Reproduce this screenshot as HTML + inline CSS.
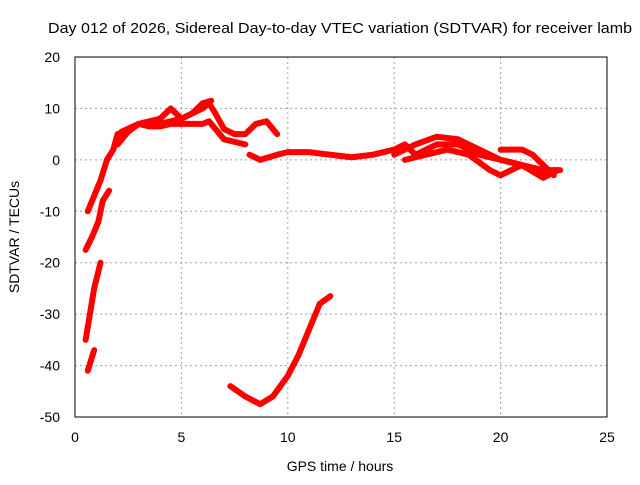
<!DOCTYPE html>
<html><head><meta charset="utf-8"><style>
body{margin:0;background:#fff}
svg text{font-family:"Liberation Sans",sans-serif;font-size:14px;fill:#000}
</style></head><body>
<svg id="chart" width="640" height="480" xmlns="http://www.w3.org/2000/svg">
<text x="340" y="33" text-anchor="middle" textLength="584" lengthAdjust="spacingAndGlyphs" style="font-size:15px">Day 012 of 2026, Sidereal Day-to-day VTEC variation (SDTVAR) for receiver lamb</text>
<text x="340" y="471" text-anchor="middle">GPS time / hours</text>
<text transform="translate(19,237) rotate(-90)" text-anchor="middle">SDTVAR / TECUs</text>
<g id="grid"></g><g id="ticks"></g><g id="marks"></g>
<rect x="75" y="57" width="532" height="360" fill="none" stroke="#000" stroke-width="1"/>
</svg>
<script>
const xTicks=[0,5,10,15,20,25];
const yTicks=[20,10,0,-10,-20,-30,-40,-50];
const seriesA=[[0.6,-10],[0.9,-7],[1.2,-4],[1.5,0],[1.8,2],[2,5],[2.5,6],[3,7],[4,7],[5,8],[5.5,9],[6,10],[6.3,11],[6.6,9],[7,6],[7.5,5],[8,5],[8.5,7],[9,7.5],[9.5,5]];
const seriesA2=[[2,3],[2.5,5.5],[3,7],[3.5,6.5],[4,6.5],[4.5,7],[5,7],[5.5,7],[6,7],[6.3,7.5],[6.6,6],[7,4],[7.5,3.5],[8,3]];
const seriesA3=[[2.2,5.5],[3,7],[4,8],[4.5,10],[5,8],[5.5,9],[6,11],[6.4,11.5]];
const seriesB=[[0.5,-17.5],[0.8,-15],[1.1,-12],[1.3,-8],[1.6,-6]];
const seriesC=[[0.5,-35],[0.7,-30],[0.9,-25],[1.2,-20]];
const seriesC2=[[0.6,-41],[0.9,-37]];
const seriesD=[[7.3,-44],[8,-46],[8.7,-47.5],[9.3,-46],[10,-42],[10.5,-38],[11,-33],[11.5,-28],[12,-26.5]];
const seriesE=[[8.2,1],[8.7,0],[9.5,1],[10,1.5],[11,1.5],[12,1],[13,0.5],[14,1],[15,2],[15.5,3],[16,1],[17,3],[18,3],[19,1],[20,0],[21,-1],[22,-2],[22.8,-2]];
const seriesF=[[15,1],[16,3],[17,4.5],[18,4],[19,2],[20,0],[21,-1],[22,-3],[22.5,-2]];
const seriesG=[[15.5,0],[16.5,1],[17.5,2],[18.5,1],[19.5,-2],[20,-3],[21,-1],[22,-3.5],[22.7,-2]];
const seriesH=[[20,2],[21,2],[21.5,1],[22,-1],[22.5,-3]];
const allSeries=[seriesA,seriesA2,seriesA3,seriesB,seriesC,seriesC2,seriesD,seriesE,seriesF,seriesG,seriesH];
const NS="http://www.w3.org/2000/svg";
const X=h=>75+h*(532/25);
const Y=v=>57+(20-v)*(360/70);
const grid=document.getElementById('grid'),ticks=document.getElementById('ticks'),marks=document.getElementById('marks');
function mk(t,a,p){const e=document.createElementNS(NS,t);for(const k in a)e.setAttribute(k,a[k]);p.appendChild(e);return e;}
xTicks.forEach(t=>{
  if(t>0&&t<25){const g=mk('line',{x1:X(t),x2:X(t),y1:57,y2:417,stroke:'#a0a0a0','stroke-dasharray':'2,3'},grid);
  
  }
  const l=mk('text',{x:X(t),y:442,'text-anchor':'middle'},ticks);l.textContent=t;
  
  
});
yTicks.forEach(t=>{
  if(t<20&&t>-50){const g=mk('line',{x1:75,x2:607,y1:Y(t),y2:Y(t),stroke:'#a0a0a0','stroke-dasharray':'2,3'},grid);
  
  }
  const l=mk('text',{x:60,y:Y(t)+5,'text-anchor':'end'},ticks);l.textContent=t;
  
  
});
allSeries.forEach(s=>{
  const p=mk('polyline',{points:s.map(d=>X(d[0])+','+Y(d[1])).join(' '),fill:'none',stroke:'#ff0000','stroke-width':6,'stroke-linejoin':'round','stroke-linecap':'round'},marks);
  
  
});
</script>
</body></html>
